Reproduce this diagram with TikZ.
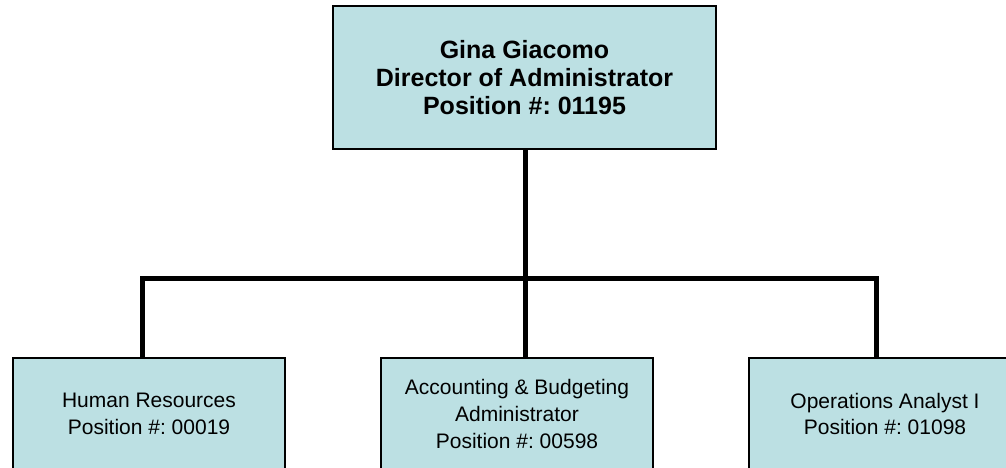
\documentclass[tikz,border=0pt]{standalone}
\usepackage{fontspec}
\setmainfont{Liberation Sans}
\usepackage{tikz}
\usetikzlibrary{positioning, calc}
\frenchspacing
\definecolor{boxfill}{RGB}{188,224,227}
\tikzset{
    headbox/.style={draw=black, line width=2pt, fill=boxfill, minimum width=383, minimum height=143,
        align=center, font=\fontsize{25}{28.3}\selectfont\bfseries},
    staffbox/.style={draw=black, line width=2pt, fill=boxfill, minimum width=272, minimum height=112,
        align=center, font=\fontsize{21}{26.7}\selectfont},
    orgline/.style={line width=5pt, line join=miter}
}
\begin{document}
\begin{tikzpicture}[x=1pt, y=-1pt]
    \useasboundingbox (0,0) rectangle (1006,468);
    \clip (0,0) rectangle (1006,468);

    % head of the unit
    \node[headbox] (dir) at (524.5,77.5) {Gina Giacomo\\Director of Administrator\\Position \#: 01195};

    % staff boxes
    \foreach \name/\cx/\txt in {
        hr/149/{Human Resources\\Position \#: 00019},
        acc/517/{Accounting \& Budgeting\\Administrator\\Position \#: 00598},
        ops/885/{Operations Analyst I\\Position \#: 01098}}{
        \node[staffbox] (\name) at (\cx,414) {\txt};
    }

    % connector bar
    \coordinate (b1) at (142,278);
    \coordinate (b2) at (525,278);
    \coordinate (b3) at (876,278);
    \draw[orgline] (b1 |- hr.north) -- (b1) -- (b3) -- (b3 |- ops.north);
    \draw[orgline] (b2 |- dir.south) -- (b2) -- (b2 |- acc.north);
\end{tikzpicture}
\end{document}
